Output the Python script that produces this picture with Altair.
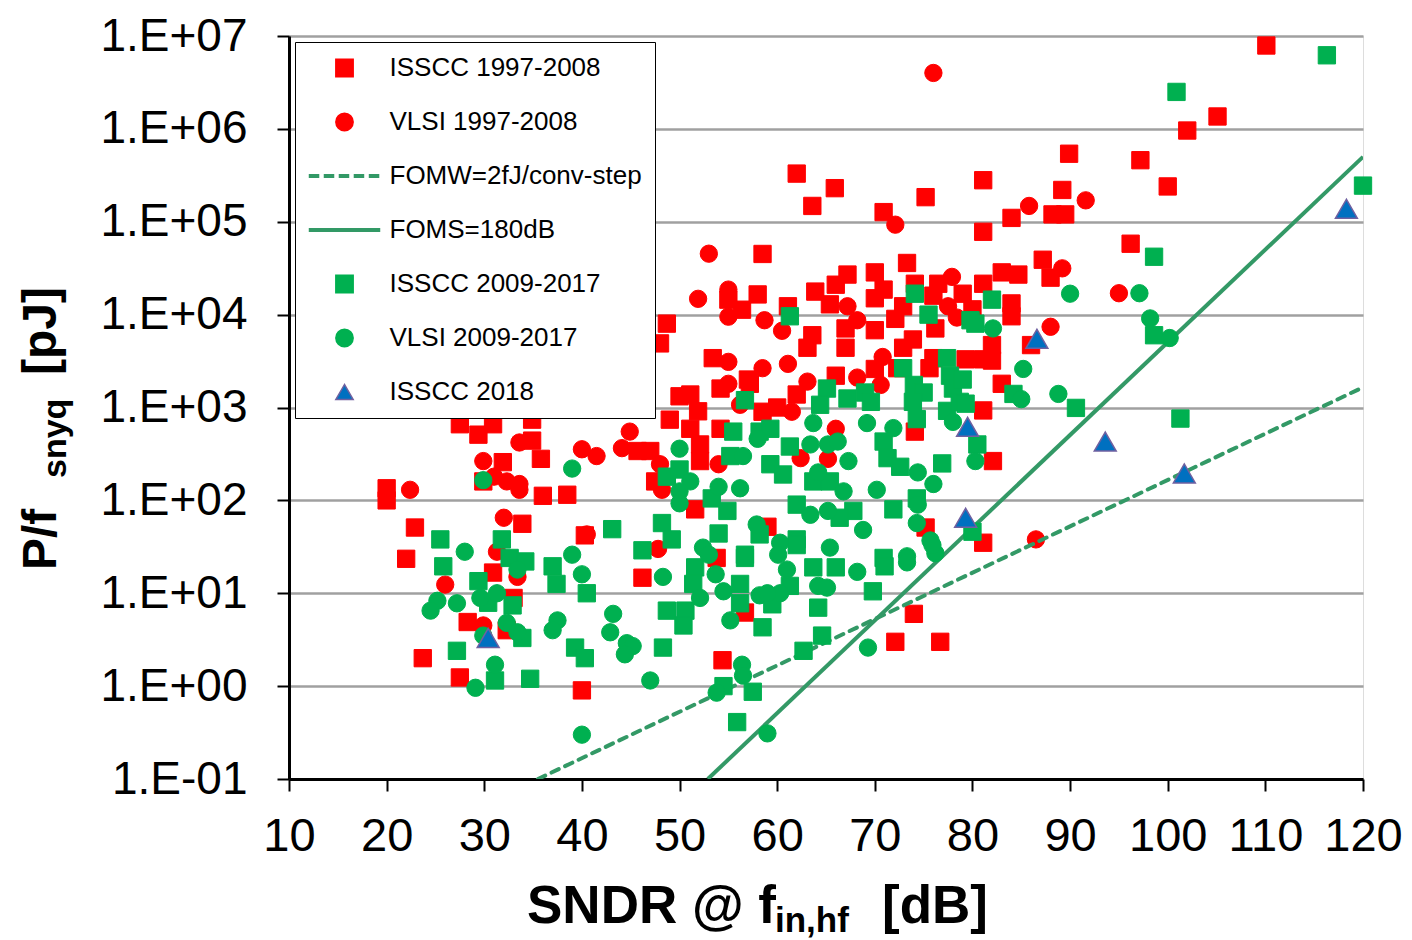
import altair as alt
import pandas as pd

series_names = ["ISSCC 1997-2008", "VLSI 1997-2008", "FOMW=2fJ/conv-step",
                "FOMS=180dB", "ISSCC 2009-2017", "VLSI 2009-2017", "ISSCC 2018"]
fill_colors = ["#FF0000", "#FF0000", "#339966", "#339966", "#00B050", "#00B050", "#0070C0"]
stroke_colors = ["#FF0000", "#FF0000", "#339966", "#339966", "#00B050", "#00B050", "#7060A0"]
FOM_COLOR = "#339966"

# legend glyphs for the two lines: a thin bar, and a row of short bars
solid_bar = "M-4.04,-0.14L4.04,-0.14L4.04,0.14L-4.04,0.14Z"
dash_bar = ("M-4.04,-0.14L-3.0,-0.14L-3.0,0.14L-4.04,0.14Z"
            "M-2.31,-0.14L-1.27,-0.14L-1.27,0.14L-2.31,0.14Z"
            "M-0.58,-0.14L0.46,-0.14L0.46,0.14L-0.58,0.14Z"
            "M1.15,-0.14L2.19,-0.14L2.19,0.14L1.15,0.14Z"
            "M2.89,-0.14L3.93,-0.14L3.93,0.14L2.89,0.14Z")
shapes = ["square", "circle", dash_bar, solid_bar, "square", "circle", "triangle-up"]

# ISSCC 1997-2008 (red squares)
isscc_old_sndr = [20, 20, 22.9, 22, 23.7, 27.5, 28.3, 30.9, 33, 32.3,
                  27.5, 29.4, 30.9, 34.9, 34.9, 31.9, 35.8, 29.9, 36, 38.5, 33.9,
                  58.5, 55, 58, 56.4, 48.7, 48, 53.4, 54.2, 57, 57.2, 50, 51.1, 51.9, 58.5,
                  49, 45.7, 47, 40.3, 51.1, 52.1, 52.1, 54.2, 47.5, 51.6,
                  46.2, 56.7, 53.8, 40, 54.4,
                  73.3, 67.2, 70, 66, 63.9, 70.9, 70, 74.1, 76.5, 79, 61.1, 65.4, 72.1, 72.9, 76,
                  76.2, 63.6, 63.1, 67, 67, 70, 73.9, 72.9,
                  66, 70, 72.3, 76, 75.6, 62, 60, 74.1,
                  75.2, 59, 74, 72.1, 76.7,
                  81.1, 87.2, 88, 83, 84.7, 81.1, 80, 84, 84, 86, 82, 82, 81.1, 79.3, 83, 81.1, 82.1, 81.1,
                  62, 63.6, 65.9, 70.9, 75.2, 81.1, 84, 89.9, 89.2, 88.2, 89.5,
                  110.1, 105.1, 102, 97.2, 100, 96.2]
isscc_old_pj = [135, 100, 51, 23.5, 2.0, 1.24, 4.9, 16.7, 8.9, 4,
                660, 510, 660, 740, 440, 258, 280, 160, 112, 115, 56,
                45000, 14500, 16500, 11300, 8000, 4900, 3400, 1600, 2000, 1800, 1320, 1380, 910, 900,
                740, 340, 340, 42, 590, 400, 265, 590, 160, 80,
                14.7, 6.2, 24, 0.9, 1.9,
                36000, 27000, 28500, 21000, 17700, 18600, 15000, 21500, 21500, 16800, 12300, 12900, 9000, 12300, 16000,
                7100, 6000, 4400, 7100, 4400, 6800, 5400, 4400,
                2200, 2600, 2650, 3400, 2650, 1380, 1000, 550,
                51, 52, 6, 3.0, 3.0,
                78000, 39000, 25000, 28500, 27000, 21500, 11400, 13200, 9600, 4700, 4700, 3200, 3300, 3300, 1800, 930, 265, 35,
                330000, 148000, 230000, 127000, 184000, 280000, 110000, 540000, 220000, 120000, 120000,
                7900000, 1360000, 960000, 460000, 240000, 58000]

# VLSI 1997-2008 (red circles)
vlsi_old_sndr = [22.4, 26, 29.9, 31.3, 33.4, 29.9, 33.6, 31, 32.3, 33.6, 33.6, 32,
                 53, 51.9, 55, 55, 58.7, 55, 58.5, 55, 56.2,
                 44.9, 44.1, 40, 41.5, 54, 48, 48.2, 40.5, 47.8,
                 67.2, 77.5, 78.4, 77.9, 68.2, 60.5, 61.1, 63.1, 70.8, 68.2, 70.6,
                 66, 62.4, 65.2, 61.5,
                 89.2, 88, 86.5,
                 76, 72.1, 85.8, 91.6, 95]
vlsi_old_pj = [130, 12.4, 4.5, 28, 15, 265, 420, 180, 160, 150, 130, 65,
               45300, 14800, 18600, 9500, 8700, 3100, 2650, 1800, 1070,
               550, 365, 355, 300, 245, 245, 130, 43, 30,
               12300, 12300, 9300, 25500, 8700, 6700, 2950, 1900, 3500, 2100, 1750,
               590, 285, 280, 900,
               31500, 7400, 38,
               4000000, 93000, 148000, 170000, 17000]

# ISSCC 2009-2017 (green squares)
isscc_new_sndr = [25.5, 31.8, 32.6, 34.2, 25.8, 37, 37.4, 29.4, 30.4, 32.9, 33.9, 27.2, 31.1, 34.7, 39.3, 40.3, 40.5,
                  56.7, 48.7, 50, 55.5, 55.2, 53.3, 54.9, 48.2, 43.1, 49.2, 54, 46.2, 56.7, 58.2, 58.2,
                  51.6, 51.4, 50.6, 48.7, 50.4, 48.3, 56.7, 56.2, 56.2, 58.5, 54.5, 57.5, 55.9,
                  61.3, 74.1, 75.5, 79.8, 65.1, 69, 72.9, 77.4, 77.7, 78, 74, 75,
                  64.4, 67.2, 69.6, 73.9, 74.3, 77.4, 78.7,
                  59.3, 61.3, 59.3, 60.6, 63.7, 65.4, 70.9, 71.3, 72.6, 76.9, 74.3, 71.9, 67.8, 62, 66.4, 62, 70.9,
                  62, 63.7, 66, 71, 61.3, 59.5, 64.2, 69.8, 64.6, 62.7,
                  82, 80.3, 79, 79.3, 84.2, 90.6, 80.5, 80,
                  100.9, 116.3, 120, 98.6, 98.6, 101.3]
isscc_new_pj = [38, 38, 24, 22, 19.5, 19.5, 12.6, 13.5, 7.9, 7.4, 3.3, 2.4, 1.15, 1.2, 2.6, 2.0, 10,
                1200, 180, 215, 550, 300, 105, 77, 57, 49, 38, 44, 29, 26, 43, 550,
                19, 12.6, 6.5, 6.5, 4.5, 2.6, 24, 12.6, 7.8, 4.3, 1.0, 0.87, 0.41,
                9600, 16800, 10000, 8700, 1600, 1450, 2650, 3400, 2200, 1600, 1750, 1450,
                1070, 1250, 1150, 1150, 750, 920, 1150,
                590, 380, 245, 190, 160, 160, 430, 285, 230, 250, 105, 80, 77, 90, 65, 38, 24,
                33, 19, 19, 19.5, 12, 7.6, 7, 10.5, 3.5, 2.4,
                14500, 8000, 2000, 1100, 1400, 990, 400, 46,
                2500000, 6200000, 245000, 42000, 6000, 760]

# VLSI 2009-2017 (green circles)
vlsi_new_sndr = [29.9, 28, 33.4, 31.3, 29.6, 25.2, 24.5, 27.2, 37.5, 37, 32.3, 33.4, 29.9, 31.1, 29.1, 39, 40,
                 39, 50, 56.5, 51.1, 50, 50, 54, 56.2, 52.4, 57.9, 58,
                 48.3, 52.1, 53.7, 54.5, 55.2, 53, 58.2, 43.2, 42.9, 44.6, 45.2, 44.4, 47, 56.4, 56.5, 53.8, 59, 40,
                 63.7, 69.2, 71.9, 78, 63.4, 65.2, 66.2, 67.3, 64.2, 66.8, 70.2, 74.4, 76, 74.4, 74.3, 75.7, 76.2,
                 63.4, 65.2, 68.8, 60.3, 60.1, 65.4, 73.3,
                 61, 60.3, 59, 64.2, 65.1, 68.2, 73.3, 75.9, 69.3,
                 82.1, 90, 85.2, 85, 88.8, 80.3,
                 97.1, 98.2, 100.2]
vlsi_new_pj = [165, 28, 18, 10, 8.9, 8.3, 6.5, 7.8, 5.1, 4.0, 4.8, 3.8, 3.5, 1.7, 0.96, 26, 16,
               220, 360, 300, 160, 125, 93, 140, 135, 31, 55, 460,
               15, 8.9, 16, 10.5, 5.1, 26, 9.5, 6, 3.8, 2.9, 2.7, 2.2, 1.15, 1.7, 1.3, 0.85, 0.31, 0.3,
               680, 680, 600, 700, 400, 400, 430, 265, 200, 125, 130, 200, 150, 90, 57, 37, 27,
               70, 77, 48, 35, 26, 31, 25,
               18, 10, 10, 12, 11.5, 17, 21.5, 33, 2.6,
               7100, 16800, 2600, 1230, 1400, 265,
               17000, 9100, 5600]

# ISSCC 2018 (triangles)
isscc_2018_sndr = [30.4, 79.5, 79.3, 86.6, 93.6, 101.7, 118.3]
isscc_2018_pj = [3.3, 620, 65, 5500, 430, 195, 138000]

# Figure-of-merit lines (end points)
fomw_sndr = [35.5, 120]
fomw_pj = [0.1, 1650]
foms_sndr = [52.9, 120]
foms_pj = [0.1, 5.0e5]

y_ticks = [0.1, 1, 10, 100, 1e3, 1e4, 1e5, 1e6, 1e7]
x_ticks = list(range(10, 121, 10))


def frame(name, xs, ys):
    return pd.DataFrame({"sndr": xs, "pj": ys, "series": name})


old_pts = pd.concat([frame(series_names[0], isscc_old_sndr, isscc_old_pj),
                     frame(series_names[1], vlsi_old_sndr, vlsi_old_pj)], ignore_index=True)
new_pts = pd.concat([frame(series_names[4], isscc_new_sndr, isscc_new_pj),
                     frame(series_names[5], vlsi_new_sndr, vlsi_new_pj)], ignore_index=True)
tri_pts = frame(series_names[6], isscc_2018_sndr, isscc_2018_pj)
fomw_df = frame(series_names[2], fomw_sndr, fomw_pj)
foms_df = frame(series_names[3], foms_sndr, foms_pj)

FONT = "Liberation Sans"

xenc = alt.X("sndr:Q",
             scale=alt.Scale(domain=[10, 120], nice=False, zero=False),
             axis=alt.Axis(values=x_ticks, title=None, grid=False, labelFontSize=47, labelFont=FONT,
                           labelColor="black", tickSize=12, tickWidth=2, tickColor="black",
                           domainColor="black", domainWidth=3, labelPadding=22, labelFlush=False))
yenc = alt.Y("pj:Q",
             scale=alt.Scale(type="log", domain=[0.1, 1e7], nice=False),
             axis=alt.Axis(values=y_ticks, title=None, grid=True, gridColor="#A0A0A0", gridWidth=2.5,
                           labelFontSize=46, labelFont=FONT, labelColor="black", tickSize=12, tickWidth=2,
                           tickColor="black", domainColor="black", domainWidth=3, labelPadding=30,
                           labelFlush=False,
                           labelExpr="'1.E' + (datum.value >= 1 ? '+' : '-') + '0' + abs(round(log(datum.value)/LN10))"))

leg = alt.Legend(orient="none", legendX=6, legendY=6, fillColor="white", strokeColor="black",
                 padding=13, symbolOffset=23.5, labelOffset=32, rowPadding=28, labelFontSize=26,
                 labelFont=FONT, labelColor="black", labelLimit=400, symbolSize=300,
                 symbolStrokeWidth=1.5)

fill_enc = alt.Fill("series:N", scale=alt.Scale(domain=series_names, range=fill_colors), legend=leg, title=None)
stroke_enc = alt.Stroke("series:N", scale=alt.Scale(domain=series_names, range=stroke_colors), legend=leg, title=None)
shape_enc = alt.Shape("series:N", scale=alt.Scale(domain=series_names, range=shapes), legend=leg, title=None)


def points(df, size, sw):
    return alt.Chart(df).mark_point(filled=True, opacity=1, size=size, strokeWidth=sw).encode(
        x=xenc, y=yenc, fill=fill_enc, stroke=stroke_enc, shape=shape_enc)


old_layer = points(old_pts, 300, 1)
new_layer = points(new_pts, 300, 1)
tri_layer = points(tri_pts, 480, 1.5)
fomw_layer = alt.Chart(fomw_df).mark_line(color=FOM_COLOR, strokeWidth=4, strokeDash=[8, 7],
                                          strokeCap="round", clip=True).encode(x=xenc, y=yenc)
foms_layer = alt.Chart(foms_df).mark_line(color=FOM_COLOR, strokeWidth=4, clip=True).encode(x=xenc, y=yenc)


def label(text, x, y, size, angle=0):
    return alt.Chart(pd.DataFrame({"t": [text]})).mark_text(
        text=text, align="left", baseline="alphabetic", angle=angle, font=FONT, fontWeight="bold",
        fontSize=size, color="black").encode(x=alt.value(x), y=alt.value(y))


x_title = [label("SNDR @ f", 238, 886.5, 53), label("in,hf", 486, 896, 35), label("[dB]", 593, 886.5, 53)]
y_title = [label("P/f", -233, 534, 48, angle=270), label("snyq", -223, 442, 34, angle=270),
           label("[pJ]", -233, 339, 48, angle=270)]

chart = alt.layer(old_layer, fomw_layer, foms_layer, new_layer, tri_layer, *x_title, *y_title).properties(
    width=1074, height=743,
    padding={"left": 281, "top": 28, "right": 41, "bottom": 159},
    autosize=alt.AutoSizeParams(type="none"),
).configure_view(stroke="black", strokeWidth=3).configure(background="white")

chart.save("out.html", embed_options={"renderer": "svg", "actions": False})
